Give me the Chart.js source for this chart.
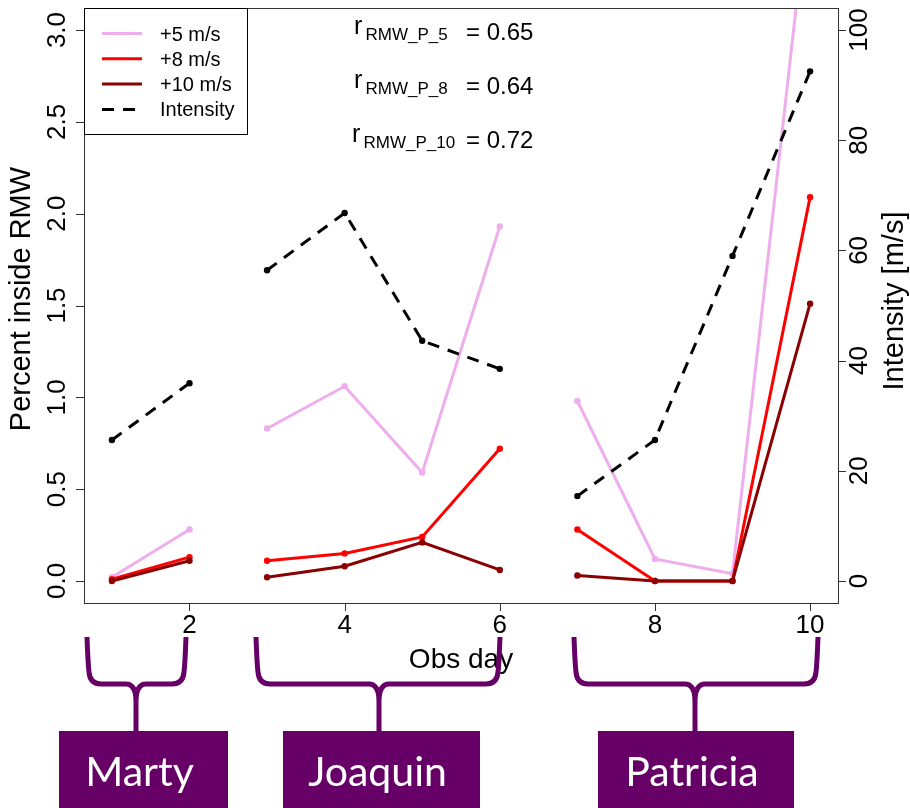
<!DOCTYPE html>
<html lang="en">
<head>
<meta charset="utf-8" />
<title>Percent inside RMW by obs day</title>
<script src="https://cdn.jsdelivr.net/npm/chart.js"></script>
<style>
  body { margin: 0; background: #fff; }
  #chart { display: block; }
</style>
</head>
<body>
<canvas id="chart" width="910" height="808"></canvas>
<script>
// obs days, and which storm each day belongs to
const days = [1, 2, 3, 4, 5, 6, 7, 8, 9, 10];
const stormOfDay = [0, 0, 1, 1, 1, 1, 2, 2, 2, 2];
const stormNames = ['Marty', 'Joaquin', 'Patricia'];

// percent of area inside RMW above threshold
const pct5 = [0.02, 0.28, 0.83, 1.06, 0.59, 1.93, 0.98, 0.12, 0.04, 3.80];
const pct8 = [0.01, 0.13, 0.11, 0.15, 0.24, 0.72, 0.28, 0.00, 0.00, 2.09];
const pct10 = [0.00, 0.11, 0.02, 0.08, 0.21, 0.06, 0.03, 0.00, 0.00, 1.51];
// storm intensity [m/s]
const intensity = [25.6, 35.9, 56.4, 66.8, 43.6, 38.5, 15.4, 25.6, 59.0, 92.5];

const pctTicks = [0, 0.5, 1.0, 1.5, 2.0, 2.5, 3.0];
const intensityTicks = [0, 20, 40, 60, 80, 100];
const dayTicks = [2, 4, 6, 8, 10];

const seriesNames = ['+5 m/s', '+8 m/s', '+10 m/s', 'Intensity'];
const corrNames = ['RMW_P_5', 'RMW_P_8', 'RMW_P_10'];
const corrValues = [0.65, 0.64, 0.72];

const PINK = '#EEAEEE', RED = '#FF0000', DARKRED = '#8B0000', PURPLE = '#660066';
const FONT = '"Liberation Sans", Arial, sans-serif';
const DASH = [12, 9];

const pts = vals => days.map((d, i) => ({ x: d, y: vals[i] }));

// hide the connecting segment where one storm ends and the next starts
const splitStorms = color => ctx =>
  stormOfDay[ctx.p0DataIndex] === stormOfDay[ctx.p1DataIndex] ? color : 'rgba(0,0,0,0)';

function series(label, vals, color, axis, order, dash) {
  return {
    label, data: pts(vals), yAxisID: axis, order,
    borderColor: color, backgroundColor: color,
    borderWidth: 3, borderDash: dash || [],
    pointRadius: 3.2, pointBorderWidth: 0, pointBackgroundColor: color,
    segment: { borderColor: splitStorms(color) },
    tension: 0
  };
}

function vText(ctx, text, x, y) {
  ctx.save();
  ctx.translate(x, y);
  ctx.rotate(-Math.PI / 2);
  ctx.fillText(text, 0, 0);
  ctx.restore();
}

const overlay = {
  id: 'overlay',
  beforeDraw(chart) {
    const ctx = chart.ctx;
    ctx.save();
    ctx.fillStyle = '#fff';
    ctx.fillRect(0, 0, chart.width, chart.height);
    ctx.restore();
  },
  afterDraw(chart) {
    const { ctx, chartArea: a, scales } = chart;
    const sx = scales.x, sl = scales.y, sr = scales.y1;
    ctx.save();

    // frame and tick marks
    ctx.strokeStyle = '#333';
    ctx.lineWidth = 1;
    ctx.strokeRect(a.left + 0.5, a.top + 0.5, a.right - a.left, a.bottom - a.top);
    ctx.beginPath();
    pctTicks.forEach(v => {
      const y = Math.round(sl.getPixelForValue(v)) + 0.5;
      ctx.moveTo(a.left - 8, y); ctx.lineTo(a.left, y);
    });
    intensityTicks.forEach(v => {
      const y = Math.round(sr.getPixelForValue(v)) + 0.5;
      ctx.moveTo(a.right, y); ctx.lineTo(a.right + 8, y);
    });
    dayTicks.forEach(v => {
      const x = Math.round(sx.getPixelForValue(v)) + 0.5;
      ctx.moveTo(x, a.bottom); ctx.lineTo(x, a.bottom + 8);
    });
    ctx.stroke();

    // tick labels
    ctx.fillStyle = '#000';
    ctx.font = '26px ' + FONT;
    ctx.textAlign = 'center';
    ctx.textBaseline = 'alphabetic';
    pctTicks.forEach(v => vText(ctx, v.toFixed(1), a.left - 19, sl.getPixelForValue(v)));
    intensityTicks.forEach(v => vText(ctx, String(v), a.right + 29, sr.getPixelForValue(v)));
    dayTicks.forEach(v => ctx.fillText(String(v), sx.getPixelForValue(v), a.bottom + 30));

    // axis titles
    ctx.font = '29px ' + FONT;
    vText(ctx, 'Percent inside RMW', 30, 299);
    vText(ctx, 'Intensity [m/s]', 903, 301);
    ctx.font = '28px ' + FONT;
    ctx.fillText('Obs day', (a.left + a.right) / 2, 668);

    // legend
    ctx.strokeStyle = '#000';
    ctx.lineWidth = 1;
    ctx.strokeRect(a.left + 0.5, a.top + 0.5, 163, 126);
    const legendColors = [PINK, RED, DARKRED, '#000'];
    ctx.font = '20px ' + FONT;
    ctx.textAlign = 'left';
    seriesNames.forEach((name, i) => {
      const y = 33.5 + i * 25.3;
      ctx.strokeStyle = legendColors[i];
      ctx.lineWidth = 3;
      ctx.setLineDash(i === 3 ? DASH : []);
      ctx.beginPath();
      ctx.moveTo(102, y); ctx.lineTo(142, y);
      ctx.stroke();
      ctx.setLineDash([]);
      ctx.fillStyle = '#000';
      ctx.fillText(name, 160, y + 7);
    });

    // correlation notes
    corrNames.forEach((name, i) => {
      const base = 40 + i * 54;
      const rx = i === 2 ? 352 : 354;
      ctx.font = '25px ' + FONT;
      ctx.fillText('r', rx, base - 6);
      ctx.font = '17px ' + FONT;
      ctx.fillText(name, rx + 11.5, base);
      ctx.font = '24px ' + FONT;
      ctx.fillText('= ' + corrValues[i].toFixed(2), 466, base);
    });

    // storm braces and name boxes
    const groups = [
      { x0: 87, x1: 186, cx: 136, bl: 59, br: 228 },
      { x0: 256, x1: 500, cx: 379, bl: 283, br: 480 },
      { x0: 574, x1: 818, cx: 695, bl: 598, br: 794 }
    ];
    const top = 637, mid = 684, boxTop = 731, r = 12;
    ctx.strokeStyle = PURPLE;
    ctx.lineWidth = 5;
    ctx.lineJoin = 'round';
    groups.forEach((g, i) => {
      ctx.beginPath();
      ctx.moveTo(g.x0, top);
      ctx.quadraticCurveTo(g.x0 + 1, mid - 20, g.x0 + 2, mid - r);
      ctx.quadraticCurveTo(g.x0 + 3, mid, g.x0 + r + 2, mid);
      ctx.lineTo(g.cx - r + 2, mid);
      ctx.quadraticCurveTo(g.cx, mid, g.cx, mid + r + 6);
      ctx.lineTo(g.cx, boxTop);
      ctx.moveTo(g.x1, top);
      ctx.quadraticCurveTo(g.x1 - 1, mid - 20, g.x1 - 2, mid - r);
      ctx.quadraticCurveTo(g.x1 - 3, mid, g.x1 - r - 2, mid);
      ctx.lineTo(g.cx + r - 2, mid);
      ctx.quadraticCurveTo(g.cx, mid, g.cx, mid + r + 6);
      ctx.stroke();

      ctx.fillStyle = PURPLE;
      ctx.fillRect(g.bl, boxTop, g.br - g.bl, chart.height - boxTop);
      ctx.fillStyle = '#fff';
      ctx.font = '41px Lato, "Open Sans", sans-serif';
      ctx.textAlign = 'center';
      ctx.fillText(stormNames[i], (g.bl + g.br) / 2 - 4, 786);
    });

    ctx.restore();
  }
};

new Chart(document.getElementById('chart'), {
  type: 'line',
  data: {
    datasets: [
      series(seriesNames[3], intensity, '#000', 'y1', 0, DASH),
      series(seriesNames[2], pct10, DARKRED, 'y', 1),
      series(seriesNames[1], pct8, RED, 'y', 2),
      series(seriesNames[0], pct5, PINK, 'y', 3)
    ]
  },
  options: {
    responsive: false,
    animation: false,
    devicePixelRatio: 1,
    layout: { padding: { left: 84, top: 8, right: 72, bottom: 205 } },
    plugins: { legend: { display: false }, tooltip: { enabled: false } },
    scales: {
      x: { type: 'linear', display: false, min: 0.64, max: 10.36 },
      y: { type: 'linear', display: false, min: -0.12, max: 3.12 },
      y1: { type: 'linear', display: false, position: 'right', min: -4, max: 104 }
    }
  },
  plugins: [overlay]
});
</script>
</body>
</html>
